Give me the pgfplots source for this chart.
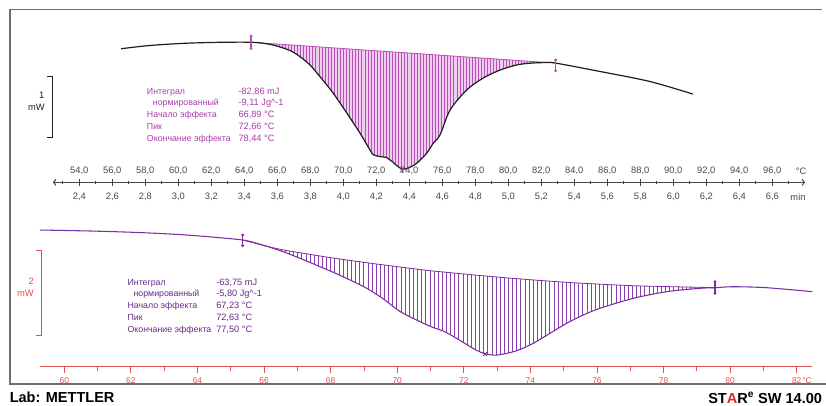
\documentclass[border=0pt]{standalone}
\usepackage{fontspec}
\setmainfont{Liberation Sans}
\usepackage{pgfplots}
\usepackage{pgfplotstable}
\pgfplotsset{compat=1.18}
\usepgfplotslibrary{fillbetween}
\usetikzlibrary{patterns.meta,arrows.meta}

\definecolor{curvetop}{RGB}{30,30,30}
\definecolor{magline}{RGB}{185,80,185}
\definecolor{magfill}{RGB}{238,205,238}
\definecolor{magtext}{RGB}{170,60,170}
\definecolor{purcurve}{RGB}{125,45,160}
\definecolor{purhatch}{RGB}{135,65,175}
\definecolor{purtext}{RGB}{105,40,135}
\definecolor{redax}{RGB}{225,80,80}
\definecolor{axgray}{RGB}{70,70,70}
\definecolor{framegray}{RGB}{110,110,110}
\definecolor{starred}{RGB}{220,40,40}

% top curve: T (degC), signal (mW)
\pgfplotstableread{
T y
56.53 2.179
58.28 2.232
60.41 2.268
62.53 2.284
64.41 2.285
65.25 2.264
65.96 2.224
66.77 2.150
67.38 2.049
67.98 1.914
68.59 1.723
69.38 1.457
70.21 1.131
71.01 0.804
71.62 0.527
71.82 0.450
72.22 0.420
72.63 0.405
72.83 0.364
73.01 0.330
73.19 0.282
73.62 0.212
74.04 0.245
74.45 0.310
75.05 0.473
75.45 0.636
75.86 0.772
76.47 1.178
77.48 1.506
78.48 1.701
79.50 1.831
80.51 1.914
81.32 1.943
82.33 1.954
82.87 1.945
85.56 1.808
88.59 1.644
91.18 1.440
}\topcurve

% integrated part of the top curve
\pgfplotstableread{
T y
64.41 2.285
65.25 2.264
65.96 2.224
66.77 2.150
67.38 2.049
67.98 1.914
68.59 1.723
69.38 1.457
70.21 1.131
71.01 0.804
71.62 0.527
71.82 0.450
72.22 0.420
72.63 0.405
72.83 0.364
73.01 0.330
73.19 0.282
73.62 0.212
74.04 0.245
74.45 0.310
75.05 0.473
75.45 0.636
75.86 0.772
76.47 1.178
77.48 1.506
78.48 1.701
79.50 1.831
80.51 1.914
81.32 1.943
82.33 1.954
82.87 1.945
}\topseg

\pgfplotstableread{
T y
64.41 2.285
82.87 1.945
}\topbase

% bottom curve
\pgfplotstableread{
T y
59.270 3.216
60.772 3.193
62.073 3.162
63.175 3.122
64.076 3.075
65.359 2.981
65.879 2.880
66.278 2.786
66.681 2.675
67.170 2.522
67.681 2.353
68.080 2.221
68.582 2.040
69.084 1.845
69.574 1.600
70.084 1.300
70.685 1.060
71.084 0.920
71.385 0.840
71.736 0.690
72.088 0.522
72.367 0.393
72.637 0.304
72.877 0.275
73.088 0.282
73.590 0.376
74.088 0.551
74.590 0.786
75.091 1.021
75.590 1.216
76.091 1.374
77.092 1.609
78.095 1.765
79.096 1.845
79.546 1.859
80.096 1.882
81.099 1.859
82.469 1.765
}\botcurve

\pgfplotstableread{
T y
65.359 2.981
65.879 2.880
66.278 2.786
66.681 2.675
67.170 2.522
67.681 2.353
68.080 2.221
68.582 2.040
69.084 1.845
69.574 1.600
70.084 1.300
70.685 1.060
71.084 0.920
71.385 0.840
71.736 0.690
72.088 0.522
72.367 0.393
72.637 0.304
72.877 0.275
73.088 0.282
73.590 0.376
74.088 0.551
74.590 0.786
75.091 1.021
75.590 1.216
76.091 1.374
77.092 1.609
78.095 1.765
79.096 1.845
79.546 1.859
}\botseg

\pgfplotstableread{
T y
65.359 2.981
66.179 2.816
66.681 2.734
67.681 2.605
68.282 2.534
69.084 2.447
70.084 2.346
71.084 2.252
73.088 2.104
75.091 1.986
77.092 1.906
79.096 1.868
79.546 1.859
}\botbase

\pgfplotsset{
  canvas/.style={at={(0pt,-303.75pt)}, anchor=south west, width=619.5pt, height=303.75pt,
    scale only axis, hide axis, clip=false},
}
\tikzset{lab/.style={anchor=west, inner sep=0pt, text height=5pt, text depth=1.3pt}}

\begin{document}
\begin{tikzpicture}

% ---------------- top curve ----------------
\begin{axis}[canvas, xmin=49.194, xmax=99.255, ymin=-3.633, ymax=2.974]
\addplot[name path=tc, draw=none, smooth] table[x=T,y=y] {\topseg};
\addplot[name path=tb, draw=none] table[x=T,y=y] {\topbase};
\addplot[fill=magfill, draw=none] fill between[of=tc and tb];
\addplot[draw=none, pattern={Lines[angle=90,distance=2.3pt,line width=0.6pt]}, pattern color=magline]
   fill between[of=tc and tb];
\addplot[draw=magline, line width=0.6pt] table[x=T,y=y] {\topbase};
\addplot[draw=curvetop, line width=0.9pt, smooth] table[x=T,y=y] {\topcurve};
% limits markers
\addplot[magline, line width=0.9pt, mark=*, mark size=0.6pt] coordinates {(64.41,2.385) (64.41,2.185)};
\addplot[magline, line width=0.9pt, mark=*, mark size=0.6pt] coordinates {(82.87,1.995) (82.87,1.821)};
\addplot[magline, only marks, mark=x, mark size=2pt, line width=0.6pt] coordinates {(73.55,0.19)};
% scale bar 1 mW
\addplot[curvetop, line width=0.6pt] coordinates {(52.061,1.734) (52.364,1.734) (52.364,0.734) (52.061,0.734)};
\end{axis}

% ---------------- bottom curve ----------------
\begin{axis}[canvas, xmin=58.0685, xmax=82.881, ymin=-0.901, ymax=8.628]
\addplot[name path=bc, draw=none, smooth] table[x=T,y=y] {\botseg};
\addplot[name path=bb, draw=none, smooth] table[x=T,y=y] {\botbase};
\addplot[draw=none, pattern={Lines[angle=90,distance=3.1pt,line width=0.55pt]}, pattern color=purhatch]
   fill between[of=bc and bb];
\addplot[draw=purcurve, line width=0.6pt, smooth] table[x=T,y=y] {\botbase};
\addplot[draw=purcurve, line width=0.8pt, smooth] table[x=T,y=y] {\botcurve};
\addplot[purcurve, line width=0.9pt, mark=*, mark size=0.6pt] coordinates {(65.359,3.099) (65.359,2.849)};
\addplot[purcurve, line width=0.9pt, mark=*, mark size=0.6pt] coordinates {(79.546,2.000) (79.546,1.727)};
\addplot[purcurve, only marks, mark=x, mark size=2pt, line width=0.6pt] coordinates {(72.637,0.30)};
% scale bar 2 mW
\addplot[redax, line width=0.6pt] coordinates {(59.150,2.746) (59.321,2.746) (59.321,0.746) (59.150,0.746)};
\end{axis}

% ---------------- middle axis: degC above ----------------
\begin{axis}[at={(39.75pt,-136.725pt)}, anchor=north west, width=564pt, height=5pt, scale only axis,
  xmin=52.406, xmax=97.982, ymin=0, ymax=1,
  axis x line*=top, axis y line=none,
  xtick={54,56,...,96}, minor xtick={53,55,...,97},
  tick align=center, major tick length=5pt, minor tick length=2.7pt,
  axis line style={axgray, line width=0.8pt, {Straight Barb[length=1.6pt,width=4.5pt]}-{Straight Barb[length=1.6pt,width=4.5pt]}},
  every tick/.style={axgray, line width=0.6pt},
  xticklabel style={font=\fontsize{7}{8}\selectfont, text=axgray},
  /pgf/number format/.cd, fixed, fixed zerofill, precision=1, use comma, assume math mode=true]
\addplot[draw=none] coordinates {(60,0.5)};
\end{axis}

% ---------------- middle axis: min below ----------------
\begin{axis}[at={(39.75pt,-136.725pt)}, anchor=south west, width=564pt, height=5pt, scale only axis,
  xmin=2.2406, xmax=6.7982, ymin=0, ymax=1,
  axis x line*=bottom, axis y line=none,
  xtick={2.4,2.6,2.8,3.0,3.2,3.4,3.6,3.8,4.0,4.2,4.4,4.6,4.8,5.0,5.2,5.4,5.6,5.8,6.0,6.2,6.4,6.6},
  major tick length=0pt, axis line style={draw=none},
  xticklabel style={font=\fontsize{7}{8}\selectfont, text=axgray, yshift=-4.5pt},
  /pgf/number format/.cd, fixed, fixed zerofill, precision=1, use comma, assume math mode=true]
\addplot[draw=none] coordinates {(3,0.5)};
\end{axis}

% ---------------- bottom red temperature axis ----------------
\begin{axis}[at={(30pt,-275.025pt)}, anchor=south west, width=579.225pt, height=5pt, scale only axis,
  xmin=59.270, xmax=82.469, ymin=0, ymax=1,
  axis x line*=bottom, axis y line=none,
  xtick={60,62,...,82}, minor xtick={61,63,...,81},
  tick align=outside, major tick length=4.5pt, minor tick length=3pt,
  axis line style={redax, line width=1pt},
  every tick/.style={redax, line width=0.6pt},
  xticklabel style={font=\fontsize{6.3}{7}\selectfont, text=redax},
  /pgf/number format/assume math mode=true]
\addplot[draw=none] coordinates {(70,0.5)};
\end{axis}

% ---------------- texts ----------------
\begin{scope}[x=0.75pt, y=-0.75pt]
\draw[framegray, line width=0.9pt] (826,384) -- (10,384) -- (10,9.3) -- (822,9.3);

\node[anchor=center, font=\fontsize{7}{8}\selectfont, text=axgray] at (801,171.7) {°C};
\node[anchor=center, font=\fontsize{7}{8}\selectfont, text=axgray] at (798,196.7) {min};
\node[anchor=west, inner sep=0pt, font=\fontsize{6.3}{7}\selectfont, text=redax] at (802,380.7) {°C};

\node[anchor=east, inner sep=0pt, font=\fontsize{7}{8}\selectfont, text=curvetop] at (44.5,95.5) {1};
\node[anchor=east, inner sep=0pt, font=\fontsize{7}{8}\selectfont, text=curvetop] at (45,107.7) {mW};
\node[anchor=east, inner sep=0pt, font=\fontsize{7}{8}\selectfont, text=redax] at (34,281.7) {2};
\node[anchor=east, inner sep=0pt, font=\fontsize{7}{8}\selectfont, text=redax] at (34,293.3) {mW};

\begin{scope}[every node/.style={lab, font=\fontsize{6.6}{8}\selectfont, text=magtext}]
\node at (146.7,91.7) {Интеграл};
\node at (152.7,103.3) {нормированный};
\node at (146.7,115) {Начало эффекта};
\node at (146.7,127.2) {Пик};
\node at (146.7,139.3) {Окончание эффекта};
\end{scope}
\begin{scope}[every node/.style={lab, font=\fontsize{6.9}{8}\selectfont, text=magtext}]
\node at (238.3,91.7) {-82,86 mJ};
\node at (238.3,103.3) {-9,11 Jg\^{}-1};
\node at (238.3,115) {66,89 °C};
\node at (238.3,127.2) {72,66 °C};
\node at (238.3,139.3) {78,44 °C};
\end{scope}

\begin{scope}[every node/.style={lab, font=\fontsize{6.6}{8}\selectfont, text=purtext}]
\node at (127.3,282.7) {Интеграл};
\node at (133.3,294.3) {нормированный};
\node at (127.3,306.5) {Начало эффекта};
\node at (127.3,318.3) {Пик};
\node at (127.3,330) {Окончание эффекта};
\end{scope}
\begin{scope}[every node/.style={lab, font=\fontsize{6.9}{8}\selectfont, text=purtext}]
\node at (216,282.7) {-63,75 mJ};
\node at (216,294.3) {-5,80 Jg\^{}-1};
\node at (216,306.5) {67,23 °C};
\node at (216,318.3) {72,63 °C};
\node at (216,330) {77,50 °C};
\end{scope}

\node[anchor=west, inner sep=0pt, font=\fontsize{10.9}{12}\selectfont\bfseries] at (9.5,397.7) {Lab: METTLER};
\node[anchor=west, inner sep=0pt, font=\fontsize{10.9}{12}\selectfont\bfseries] at (708,397.7)
  {ST{\color{starred}A}R\textsuperscript{e} SW 14.00};
\end{scope}

\pgfresetboundingbox
\path[use as bounding box] (0pt,0pt) rectangle (619.5pt,-303.75pt);
\end{tikzpicture}
\end{document}
